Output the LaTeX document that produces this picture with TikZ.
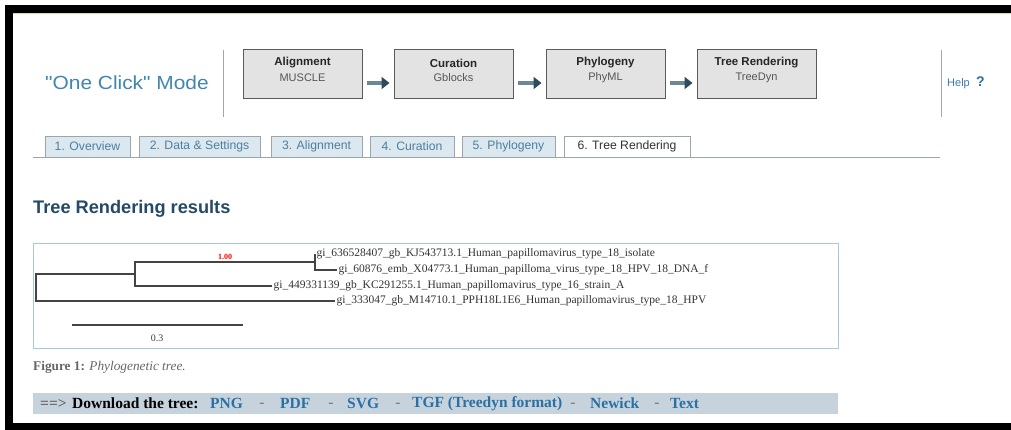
\documentclass[tikz,border=0pt]{standalone}
\usepackage{graphicx}
\usepackage{fontspec}
\setmainfont{Liberation Serif}
\setsansfont{Liberation Sans}
\newfontfamily\modefont{Liberation Sans}[Ligatures=TeXOff]
\usetikzlibrary{arrows.meta}
\newcommand{\myfs}[1]{\fontsize{#1}{#1}\selectfont}
\definecolor{modecol}{HTML}{3F86B2}
\definecolor{titlecol}{HTML}{234A68}
\definecolor{boxfill}{HTML}{E3E3E3}
\definecolor{boxline}{HTML}{5A5A5A}
\definecolor{subgray}{HTML}{555555}
\definecolor{arrbody}{HTML}{6C8798}
\definecolor{arrhead}{HTML}{2E4A5E}
\definecolor{tabfill}{HTML}{DCE8F0}
\definecolor{tabline}{HTML}{9AA6AE}
\definecolor{tabtext}{HTML}{4E7E9E}
\definecolor{treeframe}{HTML}{A8C8DC}
\definecolor{treeline}{HTML}{444444}
\definecolor{barfill}{HTML}{C6D3DC}
\definecolor{linkcol}{HTML}{2A70A4}
\definecolor{helpcol}{HTML}{3C7AB0}
\begin{document}
\begin{tikzpicture}[x=1pt,y=-1pt,
  topbox/.style={draw=boxline,fill=boxfill,line width=1pt,minimum width=119pt,minimum height=49pt,inner sep=0pt},
  boxtitle/.style={font=\sffamily\bfseries\myfs{11.5},text=black!85,inner sep=0pt},
  boxsub/.style={font=\sffamily\myfs{11},text=subgray,inner sep=0pt},
  fatarrow/.style={line width=4.5pt,draw=arrbody,-{Triangle[length=8pt,width=12pt,color=arrhead]}},
  sepline/.style={draw=gray!70,line width=1pt},
  tabbox/.style={draw=tabline,fill=tabfill,line width=0.8pt,minimum height=21pt,inner sep=0pt,font=\sffamily\myfs{12.2},text=tabtext},
  leaf/.style={font=\myfs{11.5},text=black!80,anchor=west,inner sep=1.5pt},
  tline/.style={draw=treeline,line width=1.2pt},
  dl/.style={font=\bfseries\myfs{15.5},anchor=west,inner sep=0pt},
  dashsep/.style={font=\bfseries\myfs{15.5},text=gray,inner sep=0pt}
]
\useasboundingbox (0,0) rectangle (1011,430);
% frame
\fill[black] (5,5) rectangle (1011,430);
\fill[white] (13,13) rectangle (1011,423);
\draw[color=yellow!50!gray!60,line width=0.8pt] (13,13.6) -- (1011,13.6);

% header
\node[font=\modefont\myfs{19},text=modecol,anchor=west,inner sep=0pt] (mode) at (45,83) {\scalebox{1.1}[1]{"One Click" Mode}};
\draw[sepline] (223,50) -- (223,117);
\draw[sepline] (941,50) -- (941,117);

\node[topbox] (b1) at (302.5,74.5) {};
\node[topbox] (b2) at (453.5,74.5) {};
\node[topbox] (b3) at (605.5,74.5) {};
\node[topbox] (b4) at (756.5,74.5) {};
\node[boxtitle] (t1) at (302.5,63) {Alignment};
\node[boxsub] (s1) at (302.5,78) {MUSCLE};
\node[boxtitle] (t2) at (453.5,63) {Curation};
\node[boxsub] (s2) at (453.5,78) {Gblocks};
\node[boxtitle] (t3) at (605.5,63) {Phylogeny};
\node[boxsub] (s3) at (605.5,78) {PhyML};
\node[boxtitle] (t4) at (756.5,63) {Tree Rendering};
\node[boxsub] (s4) at (756.5,78) {TreeDyn};
\draw[fatarrow] ([xshift=4pt,yshift=-8.5pt]b1.east) -- ([xshift=-4pt,yshift=-8.5pt]b2.west);
\draw[fatarrow] ([xshift=4pt,yshift=-8.5pt]b2.east) -- ([xshift=-4pt,yshift=-8.5pt]b3.west);
\draw[fatarrow] ([xshift=4pt,yshift=-8.5pt]b3.east) -- ([xshift=-4pt,yshift=-8.5pt]b4.west);

\node[font=\sffamily\myfs{11},text=helpcol,anchor=west,inner sep=0pt] (help) at (947,84) {Help};
\node[font=\sffamily\bfseries\myfs{14},text=linkcol,anchor=west,inner sep=0pt] (q) at (976,82) {?};

% tabs
\draw[draw=tabline,line width=1.4pt] (33,157.5) -- (940,157.5);
\node[tabbox,minimum width=85pt] (tab1) at (87.5,146.5) {1. Overview};
\node[tabbox,minimum width=121pt] (tab2) at (199.5,146.5) {2. Data \& Settings};
\node[tabbox,minimum width=91pt] (tab3) at (316.5,146.5) {3. Alignment};
\node[tabbox,minimum width=84pt] (tab4) at (412,146.5) {4. Curation};
\node[tabbox,minimum width=93pt] (tab5) at (508.5,146.5) {5. Phylogeny};
\node[tabbox,minimum width=126pt,fill=white,text=black!80] (tab6) at (627,146.5) {6. Tree Rendering};

% title
\node[font=\sffamily\bfseries\myfs{18.2},text=titlecol,anchor=west,inner sep=0pt] (trtitle) at (33,209) {Tree Rendering results};

% tree frame
\draw[draw=treeframe,line width=1pt] (33,244) rectangle (838,348);

\coordinate (r) at (36,287.5);
\coordinate (nA) at (135,274);
\coordinate (nB) at (315,262);
\node[leaf] (l1) at (315,254) {gi\_636528407\_gb\_KJ543713.1\_Human\_papillomavirus\_type\_18\_isolate};
\node[leaf] (l2) at (337,270) {gi\_60876\_emb\_X04773.1\_Human\_papilloma\_virus\_type\_18\_HPV\_18\_DNA\_f};
\node[leaf] (l3) at (272,286) {gi\_449331139\_gb\_KC291255.1\_Human\_papillomavirus\_type\_16\_strain\_A};
\node[leaf] (l4) at (335,301) {gi\_333047\_gb\_M14710.1\_PPH18L1E6\_Human\_papillomavirus\_type\_18\_HPV};
\draw[tline] (nA) -- (nA -| r) -- (l4.west -| r) -- (l4.west);
\draw[tline] (nB) -- (nB -| nA) -- (l3.west -| nA) -- (l3.west);
\draw[tline] (l1.west) -- (l1.west -| nB) -- (l2.west -| nB) -- (l2.west);
\node[font=\bfseries\myfs{8},text=red,inner sep=0pt] (boot) at (225,257) {1.00};
\coordinate (sb1) at (72,325);
\coordinate (sb2) at (243,325);
\draw[tline,line width=1.3pt] (sb1) -- (sb2);
\node[font=\myfs{10},text=black!75,inner sep=0pt] (sbl) at (157,338) {0.3};

% caption
\node[font=\myfs{13.3},text=black!60,anchor=west,inner sep=0pt] (cap) at (33,367) {\textbf{Figure 1:} \textit{Phylogenetic tree.}};

% download bar
\fill[barfill] (33,393) rectangle (838,414);
\node[dl,text=black!60] (dla) at (40,403.5) {==>};
\node[dl,text=black] (dlb) at (72,403.5) {Download the tree:};
\node[dl,text=linkcol] (png) at (210,403.5) {PNG};
\node[dashsep] (d1) at (262,405.5) {-};
\node[dl,text=linkcol] (pdf) at (280,403.5) {PDF};
\node[dashsep] (d2) at (331,405.5) {-};
\node[dl,text=linkcol] (svg) at (347,403.5) {SVG};
\node[dashsep] (d3) at (398,405.5) {-};
\node[dl,text=linkcol] (tgf) at (412,403.5) {TGF (Treedyn format)};
\node[dashsep] (d4) at (573,405.5) {-};
\node[dl,text=linkcol] (nwk) at (590,403.5) {Newick};
\node[dashsep] (d5) at (657,405.5) {-};
\node[dl,text=linkcol] (txt) at (670,403.5) {Text};
\end{tikzpicture}
\end{document}
